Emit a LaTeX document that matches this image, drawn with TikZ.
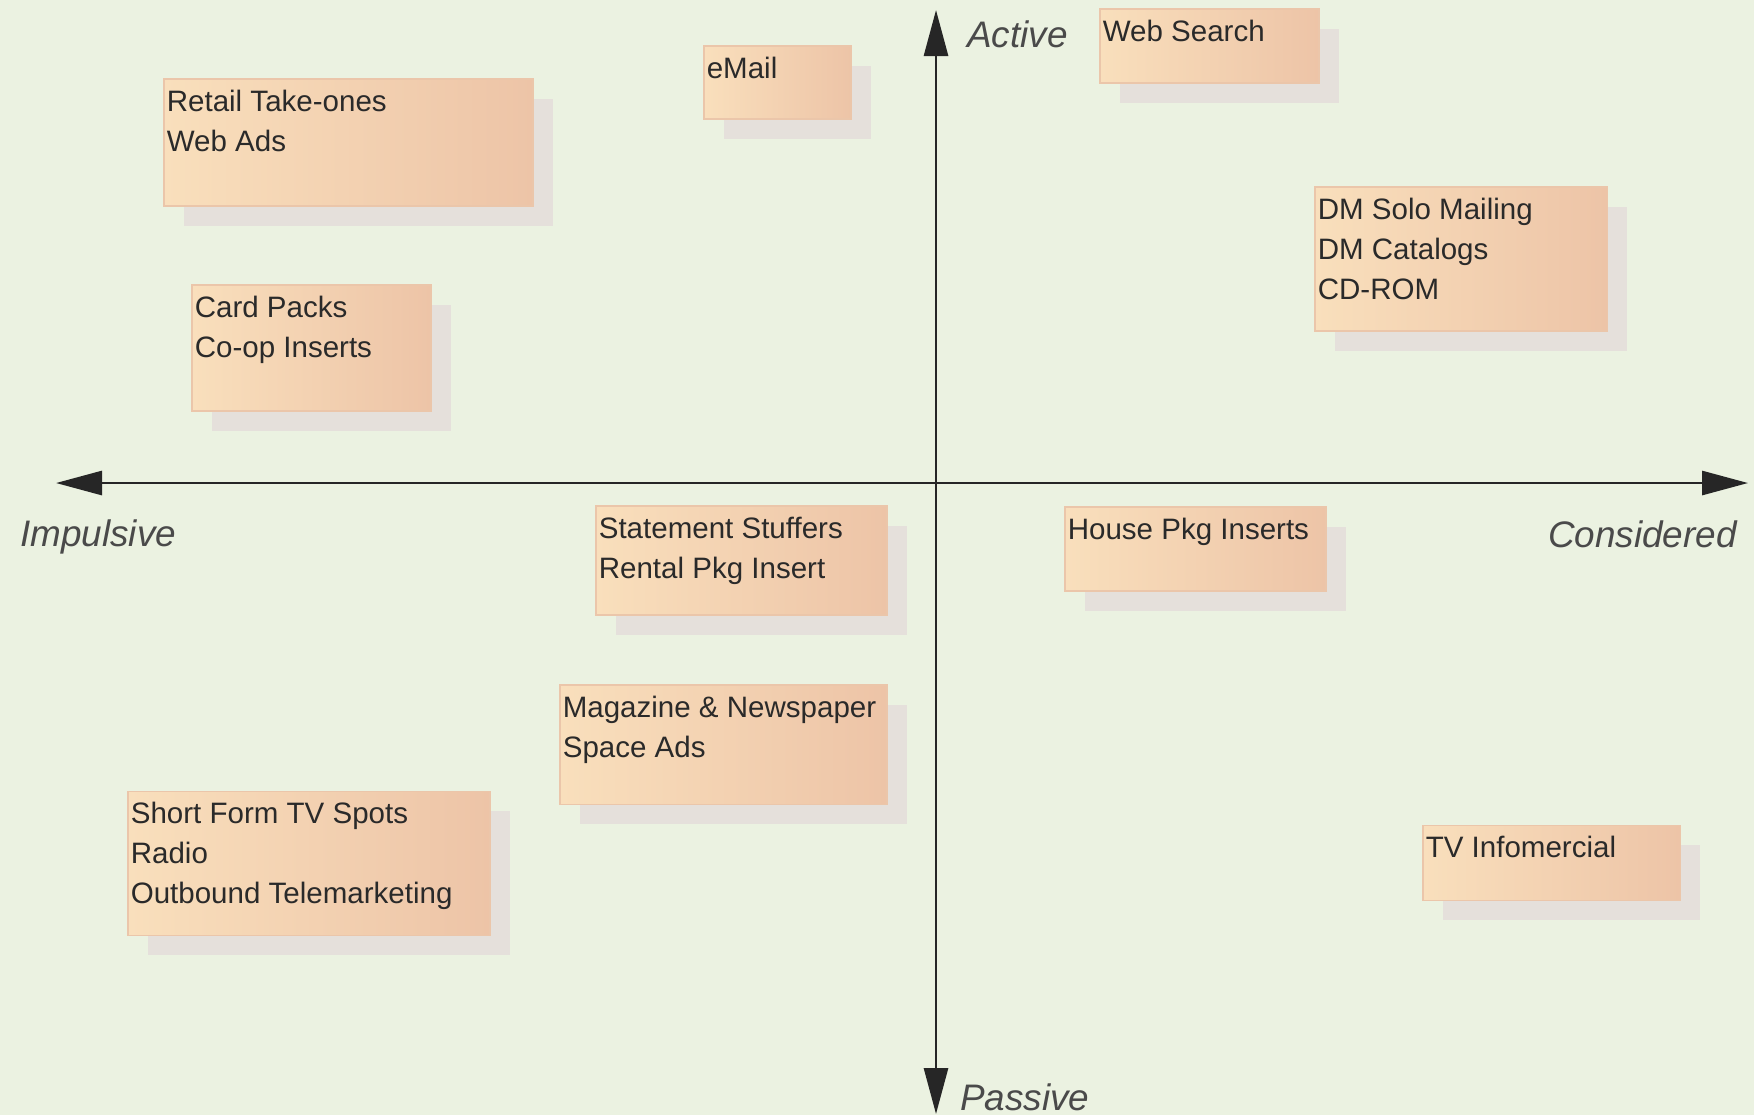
\documentclass[tikz,border=0pt]{standalone}
\usepackage{fontspec}
\setmainfont{Liberation Sans}
\usetikzlibrary{arrows.meta}

\definecolor{paper}{HTML}{EBF2E1}
\definecolor{memoL}{HTML}{F9DFBC}
\definecolor{memoR}{HTML}{EDC4A7}
\definecolor{memoEdge}{HTML}{EBC6AA}
\definecolor{memoShadow}{HTML}{E5E0DB}
\definecolor{ink}{HTML}{2A2A2A}

\tikzset{
  memoshadow/.style={fill=memoShadow},
  memobox/.style={left color=memoL, right color=memoR, draw=memoEdge, line width=0.3pt},
  memotext/.style={anchor=north west, align=left, inner xsep=0.6pt, inner ysep=3pt,
    text=ink, font=\fontsize{8.4}{11.4}\selectfont},
  axislabel/.style={text=ink!85, font=\fontsize{10.5}{12}\selectfont\itshape, inner sep=1pt},
  axis/.style={line width=0.8pt, ink!90!black,
    {Triangle[length=4.6mm,width=2.4mm]}-{Triangle[length=4.6mm,width=2.4mm]}}
}

% one sticky note: name, left, top, right, bottom, text
\newcommand{\memo}[6]{%
  \fill[memoshadow] (#2+20,#3+20) rectangle (#4+20,#5+20);
  \shade[memobox] (#2,#3) rectangle (#4,#5);
  \node[memotext] (#1) at (#2,#3) {#6};}

\begin{document}
\begin{tikzpicture}[x=0.1mm, y=-0.1mm]
    \fill[paper] (0,0) rectangle (1754,1115);
    \useasboundingbox (0,0) rectangle (1754,1115);
    % axes
    \coordinate (top) at (936,10);
    \coordinate (bottom) at (936,1114);
    \coordinate (left) at (56,483);
    \coordinate (right) at (1748,483);
    \draw[axis] (bottom) -- (top);
    \draw[axis] (left) -- (right);
    \node[axislabel, anchor=west] (active) at (963,34) {Active};
    \node[axislabel, anchor=base west] (passive) at (956,1110) {Passive};
    \node[axislabel, anchor=west] (impulsive) at (16,537) {Impulsive};
    \node[axislabel, anchor=east] (considered) at (1741,534) {Considered};
    % notes
    \memo{retail}{164}{79}{533}{206}{Retail Take-ones\\Web Ads}
    \memo{email}{704}{46}{851}{119}{eMail}
    \memo{websearch}{1100}{9}{1319}{83}{Web Search}
    \memo{dm}{1315}{187}{1607}{331}{DM Solo Mailing\\DM Catalogs\\CD-ROM}
    \memo{cards}{192}{285}{431}{411}{Card Packs\\Co-op Inserts}
    \memo{stuffers}{596}{506}{887}{615}{Statement Stuffers\\Rental Pkg Insert}
    \memo{house}{1065}{507}{1326}{591}{House Pkg Inserts}
    \memo{magazine}{560}{685}{887}{804}{Magazine \& Newspaper\\Space Ads}
    \memo{shortform}{128}{791}{490}{935}{Short Form TV Spots\\Radio\\Outbound Telemarketing}
    \memo{infomercial}{1423}{825}{1680}{900}{TV Infomercial}
  \end{tikzpicture}
\end{document}
